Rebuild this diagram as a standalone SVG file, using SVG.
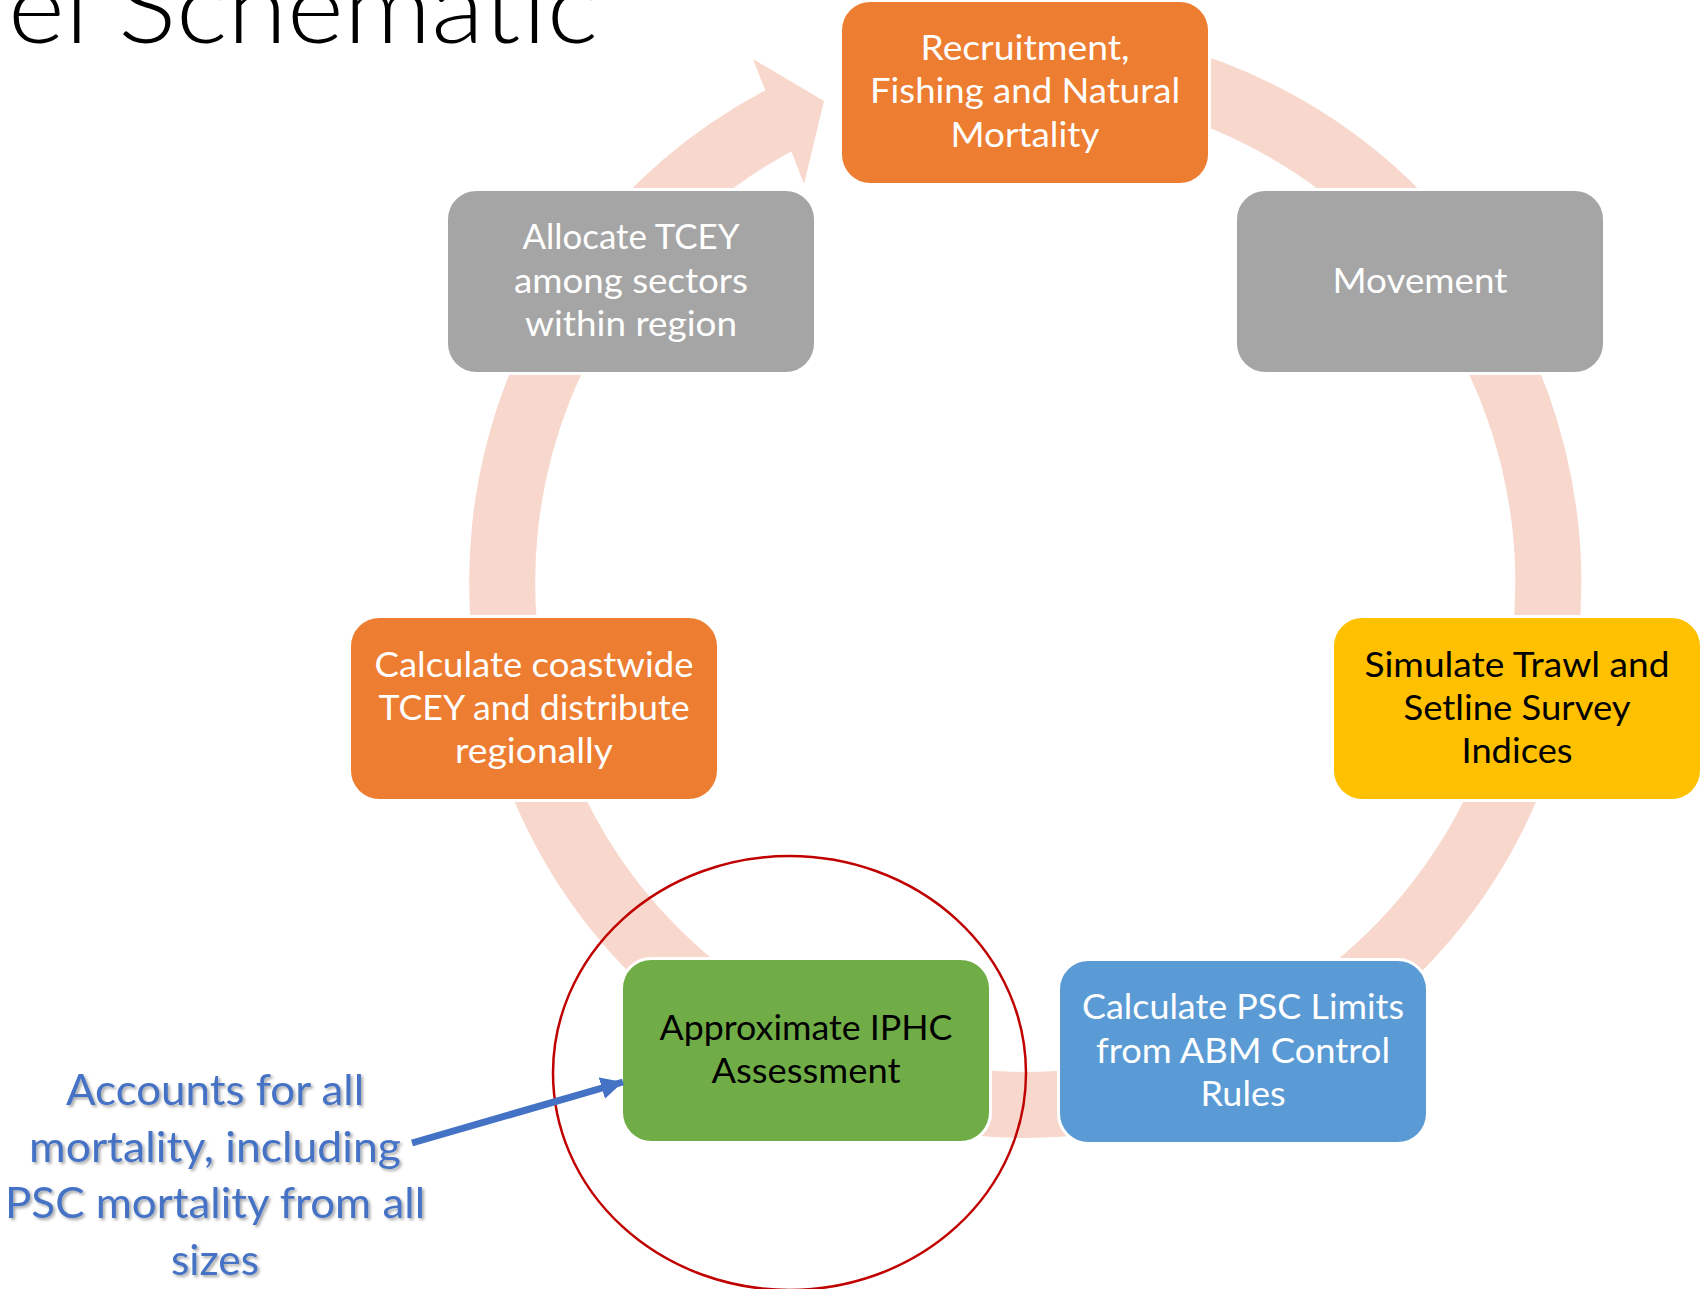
<svg xmlns="http://www.w3.org/2000/svg" width="1704" height="1289" viewBox="0 0 1704 1289">
<style>
  .box { stroke: #FFFFFF; stroke-width: 3; }
  .orange { fill: #ED7D31; }
  .gray { fill: #A5A5A5; }
  .yellow { fill: #FFC000; }
  .green { fill: #70AD47; }
  .blue { fill: #5B9BD5; }
  .t { font-family: Lato, "Liberation Sans", sans-serif; font-size: 35px; text-anchor: middle; }
  .w { fill: #FFFFFF; }
  .k { fill: #000000; }
  .note { font-family: Lato, "Liberation Sans", sans-serif; font-size: 42px; text-anchor: middle; fill: #4472C4; }
  .title { font-family: Lato, "Liberation Sans", sans-serif; font-weight: 300; font-size: 100px; fill: #000000; }
</style>
<defs>
  <filter id="shadow" x="-10%" y="-20%" width="130%" height="150%">
    <feDropShadow dx="2" dy="2" stdDeviation="1.5" flood-color="#000000" flood-opacity="0.35"/>
  </filter>
  <marker id="bluehead" markerWidth="24" markerHeight="24" refX="22" refY="11" orient="auto" markerUnits="userSpaceOnUse">
    <path d="M0,0 L22,11 L0,22 Z" fill="#4472C4"/>
  </marker>
</defs>
<rect width="1704" height="1289" fill="#FFFFFF"/>
<text class="title" x="8" y="43" textLength="590" lengthAdjust="spacingAndGlyphs">el Schematic</text>
<g id="connectors">
  <path d="M 916.3 70.4 A 523 523 0 1 1 791.6 114.0" fill="none" stroke="#F8D8CD" stroke-width="66"/>
  <polygon points="766,92 753,59 824,101 804,184 792,153" fill="#F8D8CD"/>
</g>
<g id="node-recruitment">
  <rect class="box orange" x="840.5" y="0.5" width="369" height="184" rx="30"/>
  <text class="t w"><tspan x="1025" y="60" textLength="209" lengthAdjust="spacingAndGlyphs">Recruitment,</tspan><tspan x="1025" y="103" textLength="310" lengthAdjust="spacingAndGlyphs">Fishing and Natural</tspan><tspan x="1025" y="147" textLength="149" lengthAdjust="spacingAndGlyphs">Mortality</tspan></text>
</g>
<g id="node-movement">
  <rect class="box gray" x="1235.5" y="189.5" width="369" height="184" rx="30"/>
  <text class="t w" x="1420" y="293" textLength="175" lengthAdjust="spacingAndGlyphs">Movement</text>
</g>
<g id="node-allocate">
  <rect class="box gray" x="446.5" y="189.5" width="369" height="184" rx="30"/>
  <text class="t w"><tspan x="631" y="249" textLength="217" lengthAdjust="spacingAndGlyphs">Allocate TCEY</tspan><tspan x="631" y="293" textLength="234" lengthAdjust="spacingAndGlyphs">among sectors</tspan><tspan x="631" y="336" textLength="212" lengthAdjust="spacingAndGlyphs">within region</tspan></text>
</g>
<g id="node-coastwide">
  <rect class="box orange" x="349.5" y="616.5" width="369" height="184" rx="30"/>
  <text class="t w"><tspan x="534" y="677" textLength="319" lengthAdjust="spacingAndGlyphs">Calculate coastwide</tspan><tspan x="534" y="720" textLength="311" lengthAdjust="spacingAndGlyphs">TCEY and distribute</tspan><tspan x="534" y="763" textLength="158" lengthAdjust="spacingAndGlyphs">regionally</tspan></text>
</g>
<g id="node-simulate">
  <rect class="box yellow" x="1332.5" y="616.5" width="369" height="184" rx="30"/>
  <text class="t k"><tspan x="1517" y="677" textLength="305" lengthAdjust="spacingAndGlyphs">Simulate Trawl and</tspan><tspan x="1517" y="720" textLength="227" lengthAdjust="spacingAndGlyphs">Setline Survey</tspan><tspan x="1517" y="763" textLength="111" lengthAdjust="spacingAndGlyphs">Indices</tspan></text>
</g>
<g id="node-psc">
  <rect class="box blue" x="1058.5" y="959.5" width="369" height="184" rx="30"/>
  <text class="t w"><tspan x="1243" y="1019" textLength="322" lengthAdjust="spacingAndGlyphs">Calculate PSC Limits</tspan><tspan x="1243" y="1063" textLength="294" lengthAdjust="spacingAndGlyphs">from ABM Control</tspan><tspan x="1243" y="1106" textLength="85" lengthAdjust="spacingAndGlyphs">Rules</tspan></text>
</g>
<g id="node-approximate">
  <rect class="box green" x="621.5" y="958.5" width="369" height="184" rx="30"/>
  <text class="t k"><tspan x="806" y="1040" textLength="293" lengthAdjust="spacingAndGlyphs">Approximate IPHC</tspan><tspan x="806" y="1083" textLength="189" lengthAdjust="spacingAndGlyphs">Assessment</tspan></text>
</g>
<g id="highlight">
  <ellipse cx="789.5" cy="1073" rx="236.5" ry="217" fill="none" stroke="#C00000" stroke-width="2.5"/>
</g>
<g id="annotation">
  <line x1="412" y1="1143" x2="623" y2="1082" stroke="#4472C4" stroke-width="7" marker-end="url(#bluehead)"/>
  <text class="note" filter="url(#shadow)"><tspan x="215" y="1105" textLength="298" lengthAdjust="spacingAndGlyphs">Accounts for all</tspan><tspan x="215" y="1162" textLength="372" lengthAdjust="spacingAndGlyphs">mortality, including</tspan><tspan x="215" y="1218" textLength="420" lengthAdjust="spacingAndGlyphs">PSC mortality from all</tspan><tspan x="215" y="1275" textLength="88" lengthAdjust="spacingAndGlyphs">sizes</tspan></text>
</g>
</svg>
